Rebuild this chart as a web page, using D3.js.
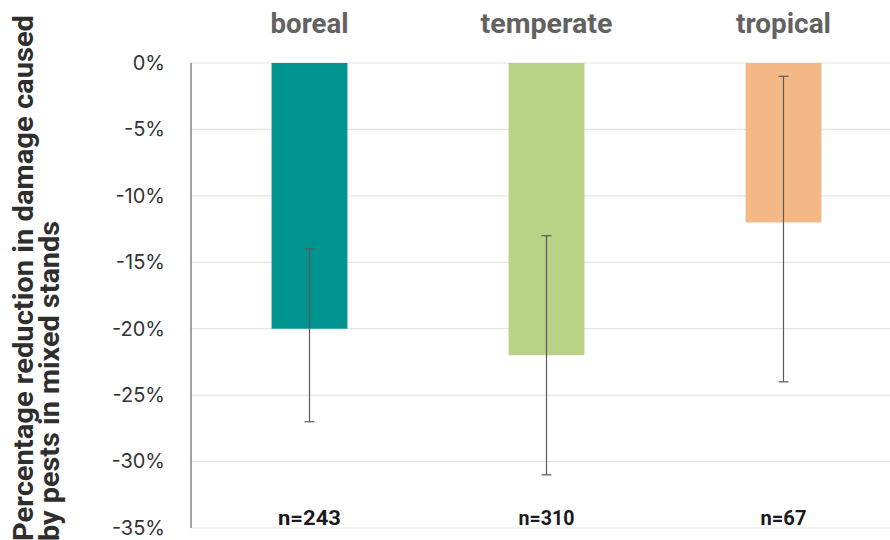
<!DOCTYPE html>
<html><head><meta charset="utf-8">
<script src="https://cdn.jsdelivr.net/npm/d3@7"></script>
<style>body{margin:0;background:#fff}svg{display:block}</style>
</head><body>
<svg id="c" width="890" height="540"></svg>
<script>
const categories = ["boreal", "temperate", "tropical"];
const values = [-20, -22, -12];
const errLow = [-27, -31, -24];
const errHigh = [-14, -13, -1];
const nLabels = ["n=243", "n=310", "n=67"];
const colors = ["#009490", "#b8d288", "#f3b886"];
const yTicks = [0, -5, -10, -15, -20, -25, -30, -35];

const svg = d3.select("#c");
const mLeft = 191, mRight = 902, mTop = 63, mBottom = 528;
const x = d3.scaleBand().domain(categories).range([mLeft, mRight]).paddingInner(0.68).paddingOuter(0.34);
const y = d3.scaleLinear().domain([0, -35]).range([mTop, mBottom]);

// gridlines
svg.append("g").selectAll("line").data(yTicks).join("line")
  .attr("x1", mLeft).attr("x2", 890).attr("y1", d => y(d)).attr("y2", d => y(d))
  .attr("stroke", "#e4e4e4").attr("stroke-width", 1.2);

// y axis tick labels
const ax = svg.append("g").attr("transform", `translate(${mLeft},0)`)
  .call(d3.axisLeft(y).tickValues(yTicks).tickFormat(d => d + "%").tickSize(0).tickPadding(26));
ax.select(".domain").remove();
ax.selectAll("text").attr("font-family", "Inter, Roboto, sans-serif").attr("font-size", 20).attr("fill", "#333");

// axis line
svg.append("line").attr("x1", mLeft).attr("x2", mLeft).attr("y1", mTop).attr("y2", mBottom)
  .attr("stroke", "#666").attr("stroke-width", 1.2);

// bars
svg.append("g").selectAll("rect").data(categories).join("rect")
  .attr("x", d => x(d)).attr("width", x.bandwidth())
  .attr("y", y(0)).attr("height", (d, i) => y(values[i]) - y(0))
  .attr("fill", (d, i) => colors[i]);

// error bars
const eg = svg.append("g").attr("stroke", "#5a5a5a").attr("stroke-width", 1.2);
categories.forEach((c, i) => {
  const cx = x(c) + x.bandwidth() / 2;
  eg.append("line").attr("x1", cx).attr("x2", cx).attr("y1", y(errHigh[i])).attr("y2", y(errLow[i]));
  eg.append("line").attr("x1", cx - 5).attr("x2", cx + 5).attr("y1", y(errHigh[i])).attr("y2", y(errHigh[i]));
  eg.append("line").attr("x1", cx - 5).attr("x2", cx + 5).attr("y1", y(errLow[i])).attr("y2", y(errLow[i]));
});

// category labels
const catLen = [78, 132, 95];
svg.append("g").selectAll("text").data(categories).join("text")
  .attr("x", d => x(d) + x.bandwidth() / 2).attr("y", 33)
  .attr("text-anchor", "middle").attr("font-family", "Roboto, sans-serif")
  .attr("font-weight", "bold").attr("font-size", 27).attr("fill", "#626262")
  .attr("textLength", (d, i) => catLen[i]).attr("lengthAdjust", "spacingAndGlyphs")
  .text(d => d);

// n labels
const nLen = [63, 56, 46];
svg.append("g").selectAll("text").data(categories).join("text")
  .attr("x", d => x(d) + x.bandwidth() / 2).attr("y", 525)
  .attr("text-anchor", "middle").attr("font-family", "Roboto, sans-serif")
  .attr("font-weight", "bold").attr("font-size", 21).attr("fill", "#1a1a1a")
  .attr("textLength", (d, i) => nLen[i]).attr("lengthAdjust", "spacingAndGlyphs")
  .text((d, i) => nLabels[i]);

// y title
const t = svg.append("text").attr("transform", "translate(0,541) rotate(-90)")
  .attr("text-anchor", "start").attr("font-family", "Roboto, sans-serif")
  .attr("font-weight", "bold").attr("font-size", 28).attr("fill", "#2e2e2e");
t.append("tspan").attr("x", 0).attr("y", 33).attr("textLength", 526).attr("lengthAdjust", "spacingAndGlyphs")
  .text("Percentage reduction in damage caused");
t.append("tspan").attr("x", 0).attr("y", 59).attr("textLength", 320).attr("lengthAdjust", "spacingAndGlyphs")
  .text("by pests in mixed stands");
</script>
</body></html>
